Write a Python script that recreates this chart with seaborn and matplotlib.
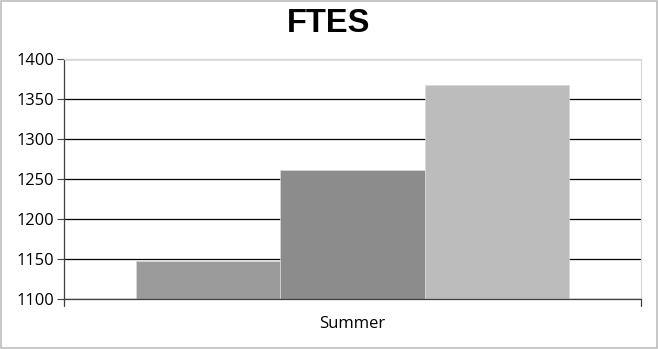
import matplotlib
matplotlib.use("Agg")
import matplotlib.pyplot as plt
import seaborn as sns
import pandas as pd
from matplotlib.patches import Rectangle

# Data: one category, three series
categories = ["Summer"]
series = ["Series 1", "Series 2", "Series 3"]
values = [1148, 1261, 1368]
colors = ["#9b9b9b", "#8c8c8c", "#bcbcbc"]
y_ticks = [1100, 1150, 1200, 1250, 1300, 1350, 1400]

df = pd.DataFrame({
    "category": categories * len(series),
    "series": series,
    "value": values,
})

sns.set_theme(style="white")
plt.rcParams["font.family"] = ["Open Sans", "DejaVu Sans"]

fig = plt.figure(figsize=(6.58, 3.49), dpi=100)
ax = fig.add_axes([64 / 658, 1 - 299 / 349, (641 - 64) / 658, (299 - 59) / 349])

sns.barplot(
    data=df, x="category", y="value", hue="series",
    palette=colors, width=0.75, legend=False, ax=ax,
    edgecolor="#d8d8d8", linewidth=0.5, saturation=1,
)

# Bars start from the axis floor at 1100
for bar in ax.patches:
    h = bar.get_height()
    bar.set_y(y_ticks[0])
    bar.set_height(h - y_ticks[0])

ax.set_xlim(-0.5, 0.5)
ax.set_ylim(y_ticks[0], y_ticks[-1])
ax.set_yticks(y_ticks)
ax.set_yticklabels([str(v) for v in y_ticks], fontsize=11.8, color="#000000")
ax.set_xticks([0])
ax.set_xticklabels(categories, fontsize=12, color="#000000")
ax.tick_params(axis="x", length=0, pad=12)
ax.tick_params(axis="y", left=True, length=5, width=0.8, color="#404040", pad=2)
ax.set_xlabel("")
ax.set_ylabel("")

# Horizontal gridlines behind bars
ax.set_axisbelow(True)
ax.yaxis.grid(True, color="#000000", linewidth=0.9)
ax.xaxis.grid(False)

# Category boundary tick marks on the x axis
for xb in (-0.5, 0.5):
    ax.plot([xb, xb], [0, -0.03], transform=ax.get_xaxis_transform(),
            color="#404040", linewidth=0.9, clip_on=False)

for side in ("left", "bottom"):
    ax.spines[side].set_color("#404040")
    ax.spines[side].set_linewidth(0.9)
for side in ("top", "right"):
    ax.spines[side].set_color("#d9d9d9")
    ax.spines[side].set_linewidth(0.9)

fig.text(0.5, 1 - 24 / 349, "FTES", ha="center", va="center", color="#000000",
         fontsize=23.5, fontweight="bold", family=["Liberation Sans", "DejaVu Sans"])

# Outer chart border
fig.patches.append(Rectangle((0.001, 0.002), 0.997, 0.995, transform=fig.transFigure,
                             fill=False, edgecolor="#bdbdbd", linewidth=1.2))

fig.savefig("out.png", dpi=100)
